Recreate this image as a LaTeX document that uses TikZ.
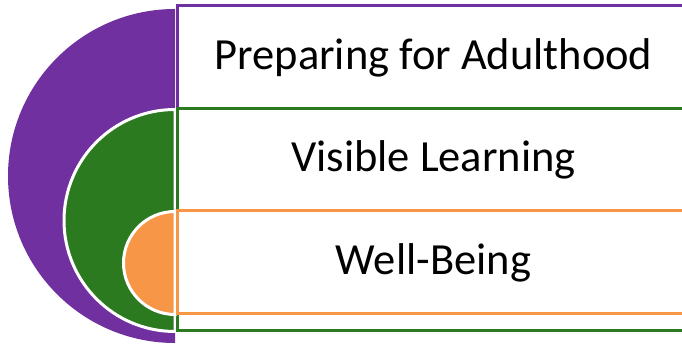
\documentclass[tikz,border=0pt]{standalone}
\usepackage{fontspec}
\setmainfont{Carlito}
\usepackage{xcolor}
\usetikzlibrary{calc, backgrounds, positioning}
\definecolor{ringpurple}{RGB}{112,48,160}
\definecolor{ringgreen}{RGB}{43,122,32}
\definecolor{ringorange}{RGB}{247,150,70}

\begin{document}
\begin{tikzpicture}[line cap=butt,line join=miter,x=1pt,y=1pt]
\tikzstyle{every node}=[font=\fontsize{44.5}{53}\selectfont, text=black]
\tikzstyle{band}=[fill=white, line width=3pt]
\tikzstyle{halfdisc}=[draw=white, line width=3pt]
\useasboundingbox (0,0) rectangle (682,345);
\clip (0,0) rectangle (682,345);
% outer ring
\fill[ringpurple] (175,336) arc[start angle=90,end angle=270,radius=167] -- cycle;
\draw[band, draw=ringpurple] (177.5,339) rectangle (692,14);
% middle ring
\filldraw[halfdisc, fill=ringgreen] (175,235.5) arc[start angle=90,end angle=270,radius=111] -- cycle;
\draw[band, draw=ringgreen] (177.5,236) rectangle (692,14);
% inner ring
\filldraw[halfdisc, fill=ringorange] (175,133.5) arc[start angle=90,end angle=270,radius=51.5] -- cycle;
\draw[band, draw=ringorange] (177.5,134) rectangle (692,31);
% labels
\node (adult) at (433.5,287.5) {Preparing for Adulthood};
\node (visible) at (433.5,185) {Visible Learning};
\node (wellbeing) at (433.5,82.5) {Well-Being};
\end{tikzpicture}
\end{document}
